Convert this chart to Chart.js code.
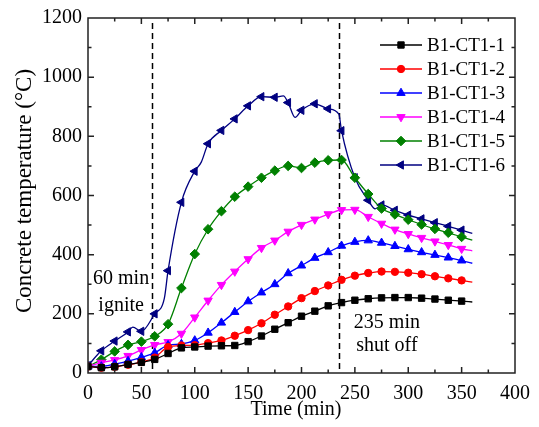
<!DOCTYPE html>
<html>
<head>
<meta charset="utf-8">
<script src="https://cdn.jsdelivr.net/npm/chart.js"></script>
<style>
  html, body { margin: 0; padding: 0; background: #fff; }
  #wrap { width: 539px; height: 427px; }
</style>
</head>
<body>
<div id="wrap"><canvas id="chart" width="539" height="427"></canvas></div>
<script>
// tempo (min): marcador a cada 12,5 min, último ponto (360) sem marcador
const times = [0, 12.5, 25, 37.5, 50, 62.5, 75, 87.5, 100, 112.5, 125, 137.5, 150, 162.5, 175,
  187.5, 200, 212.5, 225, 237.5, 250, 262.5, 275, 287.5, 300, 312.5, 325, 337.5, 350, 360];

const ct1 = [22, 18, 21, 29, 36, 46, 66, 85, 88, 91, 92, 93, 106, 125, 148,
  170, 192, 209, 227, 238, 246, 251, 254, 255, 255, 253, 250, 246, 243, 240];
const ct2 = [22, 18, 21, 28, 37, 52, 88, 93, 94, 101, 110, 126, 145, 168, 197,
  225, 253, 277, 296, 315, 329, 338, 343, 342, 339, 334, 327, 320, 313, 307];
const ct3 = [22, 22, 30, 40, 53, 68, 94, 98, 110, 136, 170, 206, 242, 272, 300,
  337, 363, 389, 408, 430, 443, 448, 440, 429, 418, 408, 399, 390, 380, 371];
const ct4 = [22, 35, 44, 58, 78, 95, 105, 133, 188, 245, 298, 343, 385, 423, 448,
  478, 501, 519, 537, 551, 552, 528, 505, 485, 470, 457, 445, 433, 420, 413];
const ct5 = [22, 45, 73, 95, 106, 124, 165, 287, 402, 486, 547, 596, 630, 660, 684,
  700, 693, 711, 719, 720, 660, 605, 556, 536, 518, 502, 487, 474, 460, 449];

// CT1-6 tem pontos extras (sem marcador) para as oscilações da curva
const times6 = [0, 12.5, 25, 37.5, 42, 50, 62.5, 71.5, 75, 87.5, 100, 106, 112.5, 125, 137.5, 150,
  162.5, 175, 183, 187.5, 194, 200, 212.5, 225, 235, 237.5, 250, 262.5, 269, 275, 287.5,
  300, 312.5, 325, 337.5, 350, 360];
const ct6 = [25, 75, 108, 139, 155, 141, 200, 252, 346, 577, 682, 712, 775, 820, 859, 903,
  934, 932, 937, 914, 864, 888, 910, 893, 875, 819, 660, 584, 555, 568, 550,
  534, 521, 508, 496, 483, 472];

const seriesNames = ['B1-CT1-1', 'B1-CT1-2', 'B1-CT1-3', 'B1-CT1-4', 'B1-CT1-5', 'B1-CT1-6'];
const xTicks = [0, 50, 100, 150, 200, 250, 300, 350, 400];
const yTicks = [0, 200, 400, 600, 800, 1000, 1200];
const eventTimes = [60, 235];

const FONT = '"Liberation Serif", "Times New Roman", serif';

function toPoints(xs, ys) {
  return xs.map((t, i) => ({ x: t, y: ys[i] }));
}

// só desenha marcador nos múltiplos de 12,5 min até 350
function markerRadius(r) {
  return ctx => {
    const t = ctx.raw ? ctx.raw.x : 0;
    return (t % 12.5 === 0 && t <= 350) ? r : 0;
  };
}

function makeSet(i, xs, ys, color, style, rotation, r) {
  return {
    label: seriesNames[i],
    data: toPoints(xs, ys),
    borderColor: color,
    backgroundColor: color,
    borderWidth: 1.3,
    pointStyle: style,
    rotation: rotation,
    pointRadius: markerRadius(r),
    pointHoverRadius: 0,
    pointBorderWidth: 1,
    pointBackgroundColor: color,
    pointBorderColor: color,
    cubicInterpolationMode: 'monotone',
    legendRadius: r
  };
}

const datasets = [
  makeSet(0, times, ct1, '#000000', 'rect', 0, 4.5),
  makeSet(1, times, ct2, '#ff0000', 'circle', 0, 3.7),
  makeSet(2, times, ct3, '#0000ff', 'triangle', 0, 4.8),
  makeSet(3, times, ct4, '#ff00ff', 'triangle', 180, 4.8),
  makeSet(4, times, ct5, '#008000', 'rectRot', 0, 4.8),
  makeSet(5, times6, ct6, '#000080', 'triangle', -90, 4.8)
];

const decorPlugin = {
  id: 'decor',
  beforeDatasetsDraw(chart) {
    const { ctx, chartArea: a, scales: { x } } = chart;
    ctx.save();
    ctx.strokeStyle = '#000';
    ctx.lineWidth = 1.5;
    ctx.setLineDash([6, 4]);
    eventTimes.forEach(t => {
      const px = Math.round(x.getPixelForValue(t)) + 0.5;
      ctx.beginPath();
      ctx.moveTo(px, a.top + 5);
      ctx.lineTo(px, a.bottom);
      ctx.stroke();
    });
    ctx.restore();
  },
  afterDraw(chart) {
    const { ctx, chartArea: a, scales: { x, y } } = chart;
    ctx.save();

    // moldura com marcas para dentro
    ctx.strokeStyle = '#222';
    ctx.lineWidth = 1.5;
    ctx.strokeRect(a.left, a.top, a.right - a.left, a.bottom - a.top);
    ctx.beginPath();
    for (let t = 25; t < 400; t += 25) {
      const px = x.getPixelForValue(t);
      const len = t % 50 === 0 ? 6 : 3.5;
      ctx.moveTo(px, a.bottom); ctx.lineTo(px, a.bottom - len);
      ctx.moveTo(px, a.top); ctx.lineTo(px, a.top + len);
    }
    for (let v = 100; v < 1200; v += 100) {
      const py = y.getPixelForValue(v);
      const len = v % 200 === 0 ? 6 : 3.5;
      ctx.moveTo(a.left, py); ctx.lineTo(a.left + len, py);
      ctx.moveTo(a.right, py); ctx.lineTo(a.right - len, py);
    }
    ctx.stroke();

    // títulos dos eixos
    ctx.fillStyle = '#000';
    ctx.textAlign = 'center';
    ctx.textBaseline = 'middle';
    ctx.font = '20px ' + FONT;
    ctx.fillText('Time (min)', 296, 410);
    ctx.save();
    ctx.translate(25, 191);
    ctx.rotate(-Math.PI / 2);
    ctx.font = '23px ' + FONT;
    ctx.fillText('Concrete temperature (\u00B0C)', 0, 0);
    ctx.restore();

    // anotações
    ctx.font = '20px ' + FONT;
    ctx.fillText('60 min', x.getPixelForValue(31), y.getPixelForValue(319));
    ctx.fillText('ignite', x.getPixelForValue(31), y.getPixelForValue(229));
    ctx.fillText('235 min', x.getPixelForValue(280), y.getPixelForValue(171));
    ctx.fillText('shut off', x.getPixelForValue(280), y.getPixelForValue(91));

    // legenda
    ctx.font = '19px ' + FONT;
    ctx.textAlign = 'left';
    chart.data.datasets.forEach((ds, i) => {
      const ly = 45 + 24 * i;
      ctx.strokeStyle = ds.borderColor;
      ctx.lineWidth = 1.5;
      ctx.setLineDash([]);
      ctx.beginPath();
      ctx.moveTo(380, ly);
      ctx.lineTo(422, ly);
      ctx.stroke();
      ctx.fillStyle = ds.borderColor;
      ctx.lineWidth = 1;
      Chart.helpers.drawPoint(ctx, {
        pointStyle: ds.pointStyle,
        rotation: ds.rotation,
        radius: ds.legendRadius,
        borderWidth: 1
      }, 401, ly);
      ctx.fillStyle = '#000';
      ctx.fillText(ds.label, 427, ly + 1);
    });

    ctx.restore();
  }
};

new Chart(document.getElementById('chart'), {
  type: 'line',
  data: { datasets: datasets },
  options: {
    responsive: false,
    animation: false,
    devicePixelRatio: 1,
    layout: { padding: { left: 0, right: 17, top: 16, bottom: 0 } },
    plugins: {
      legend: { display: false },
      tooltip: { enabled: false }
    },
    scales: {
      x: {
        type: 'linear',
        min: 0,
        max: 400,
        afterFit: s => { s.height = 54; },
        afterBuildTicks: s => { s.ticks = xTicks.map(v => ({ value: v })); },
        grid: { display: false, drawTicks: false },
        border: { display: false },
        ticks: { color: '#000', padding: 9, maxRotation: 0, font: { family: FONT, size: 20 },
          callback: v => String(v) }
      },
      y: {
        min: 0,
        max: 1200,
        afterFit: s => { s.width = 88; },
        afterBuildTicks: s => { s.ticks = yTicks.map(v => ({ value: v })); },
        grid: { display: false, drawTicks: false },
        border: { display: false },
        ticks: { color: '#000', padding: 6, font: { family: FONT, size: 20 },
          callback: v => String(v) }
      }
    }
  },
  plugins: [decorPlugin]
});
</script>
</body>
</html>
